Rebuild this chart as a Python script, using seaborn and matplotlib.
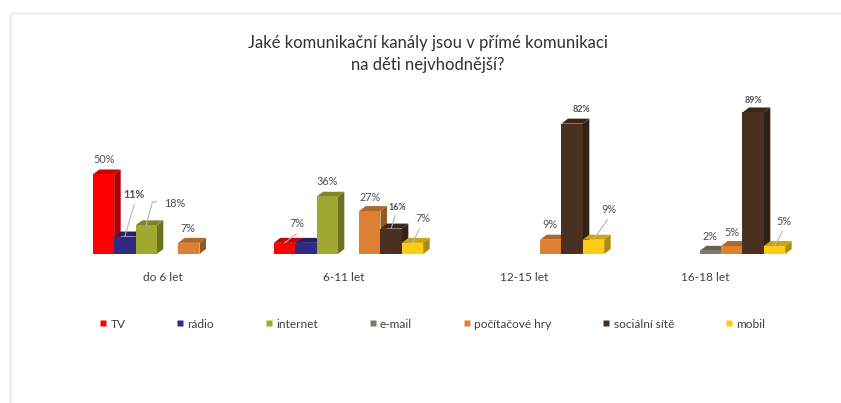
import matplotlib
matplotlib.use("Agg")
import matplotlib.pyplot as plt
from matplotlib.colors import to_rgb
from matplotlib.lines import Line2D
from matplotlib.patches import Polygon
from matplotlib.transforms import ScaledTranslation
import numpy as np
import pandas as pd
import seaborn as sns

# Survey results, per cent of respondents (NaN = no bar)
age_groups = ["do 6 let", "6-11 let", "12-15 let", "16-18 let"]
tv = [50, 7, np.nan, np.nan]
radio = [11, 7, np.nan, np.nan]
internet = [18, 36, np.nan, np.nan]
email = [np.nan, np.nan, np.nan, 2]
games = [7, 27, 9, 5]
social = [np.nan, 16, 82, 89]
mobile = [np.nan, 7, 9, 5]

channels = ["TV", "rádio", "internet", "e-mail", "počítačové hry", "sociální sítě", "mobil"]
colors = ["#FF0000", "#2E2A85", "#A0A82F", "#857766", "#DD8033", "#4A3020", "#FFCC14"]
title = "Jaké komunikační kanály jsou v přímé komunikaci\nna děti nejvhodnější?"

W, H = 841, 403
sns.set_theme(style="white")
plt.rcParams["font.family"] = ["Lato", "DejaVu Sans"]

df = pd.DataFrame({
    "skupina": age_groups * len(channels),
    "kanál": np.repeat(channels, len(age_groups)),
    "podíl": np.concatenate([tv, radio, internet, email, games, social, mobile]),
})

fig = plt.figure(figsize=(W / 100, H / 100), dpi=100)
AX_L, AX_R, AX_TOP, AX_BASE = 77, 801, 95, 254
ax = fig.add_axes([AX_L / W, 1 - AX_BASE / H, (AX_R - AX_L) / W, (AX_BASE - AX_TOP) / H])
sns.barplot(data=df, x="skupina", y="podíl", hue="kanál", hue_order=channels,
            palette=colors, width=0.825, saturation=1, legend=False, ax=ax,
            order=age_groups, linewidth=0, edgecolor="none")
ax.set_xlim(-0.5, 3.5)
ax.set_ylim(0, 100)
ax.set(xlabel="", ylabel="")
ax.set_yticks([])
sns.despine(ax=ax, left=True, bottom=True)
ax.patch.set_alpha(0)

# Pseudo-3D depth of each bar, in pixels converted to data units
DEPTH_X = 6.5 / ((AX_R - AX_L) / 4)
DEPTH_Y = 5 / ((AX_BASE - AX_TOP) / 100)


def shade(color, factor):
    return tuple(c * factor for c in to_rgb(color))


# Empty bars may be dropped by seaborn, so the group comes from the bar's position
bars = []
for i, container in enumerate(ax.containers):
    for bar in container.patches:
        h = bar.get_height()
        if np.isnan(h) or h == 0:
            continue
        g = int(round(bar.get_x() + bar.get_width() / 2))
        bars.append((g, i, bar))

for g, i, bar in bars:
    x0, x1, h = bar.get_x(), bar.get_x() + bar.get_width(), bar.get_height()
    z = 2 + g * 10 + i
    bar.set_zorder(z + 0.5)
    bar.set_clip_on(False)
    side = Polygon([(x1, 0), (x1 + DEPTH_X, DEPTH_Y), (x1 + DEPTH_X, h + DEPTH_Y), (x1, h)],
                   facecolor=shade(colors[i], 0.68), edgecolor="none", clip_on=False, zorder=z)
    top = Polygon([(x0, h), (x0 + DEPTH_X, h + DEPTH_Y), (x1 + DEPTH_X, h + DEPTH_Y), (x1, h)],
                  facecolor=shade(colors[i], 0.8), edgecolor="none", clip_on=False, zorder=z + 0.2)
    ax.add_patch(side)
    ax.add_patch(top)

# Value labels: (group, channel) -> label centre, leader start, in pixels from the bar's top centre
label_layout = {
    (0, 0): ((0.5, -14.5), None),
    (0, 1): ((9.5, -42.5), (9.5, -32)),
    (0, 2): ((28.5, -22), (10.5, -23.4)),
    (0, 4): ((-0.5, -14), None),
    (1, 0): ((12, -19), (12, -9)),
    (1, 2): ((0, -15), None),
    (1, 4): ((0, -14), None),
    (1, 5): ((6, -21.5), (4, -13)),
    (1, 6): ((10, -24), (7, -14)),
    (2, 4): ((-1, -14.7), None),
    (2, 5): ((9, -14.6), None),
    (2, 6): ((15, -30), (14, -20)),
    (3, 3): ((0, -14), None),
    (3, 4): ((0, -14), None),
    (3, 5): ((0, -11.5), None),
    (3, 6): ((9, -25), (8, -15)),
}
emphasised = {(0, 1), (1, 5), (2, 5), (3, 5)}
small = {(1, 5), (2, 5), (3, 5)}
elbowed = {(0, 2)}
for g, i, bar in bars:
    if (g, i) not in label_layout:
        continue
    (dx, dy), start = label_layout[(g, i)]
    anchor = (bar.get_x() + bar.get_width() / 2, bar.get_height())
    ax.annotate(f"{bar.get_height():.0f}%", xy=anchor, xytext=(dx * 0.72, -dy * 0.72),
                textcoords="offset points", ha="center", va="center",
                fontsize=6.4 if (g, i) in small else 7.8,
                fontweight="bold" if (g, i) in emphasised else "normal",
                color="#505050", zorder=500, annotation_clip=False)
    if start is not None:
        route = "angle,angleA=0,angleB=75,rad=0" if (g, i) in elbowed else "arc3"
        ax.annotate("", xy=anchor, xycoords="data",
                    xytext=(start[0] * 0.72, -start[1] * 0.72), textcoords="offset points",
                    arrowprops=dict(arrowstyle="-", color="#B5B5B5", lw=0.8, shrinkA=0, shrinkB=0,
                                    connectionstyle=route),
                    zorder=499, annotation_clip=False)

# Category names sit slightly left of the group centres
ax.tick_params(axis="x", length=0, pad=13, labelsize=8.6, labelcolor="#404040")
shift = ScaledTranslation(-5 / 100, 0, fig.dpi_scale_trans)
for lab in ax.get_xticklabels():
    lab.set_transform(lab.get_transform() + shift)

# Legend below the plot
handles = [Line2D([], [], linestyle="none", marker="s", markersize=4.6,
                  markerfacecolor=c, markeredgecolor="none", label=n)
           for n, c in zip(channels, colors)]
fig.legend(handles=handles, loc="center", bbox_to_anchor=(432 / W, 1 - 324 / H), ncol=7,
           frameon=False, fontsize=8.6, labelcolor="#404040", handlelength=0.7,
           handletextpad=0.25, columnspacing=4.25, borderpad=0)

fig.text(428 / W, 1 - 54 / H, title, ha="center", va="center", fontsize=12,
         color="#303030", linespacing=1.5)

# Thin panel outline along the top and left
frame = "#E4E4E4"
fig.add_artist(Line2D([9.5 / W, 9.5 / W], [0, 1 - 14 / H], color=frame, lw=1))
fig.add_artist(Line2D([11 / W, 1], [1 - 12.5 / H, 1 - 12.5 / H], color=frame, lw=1))

fig.savefig("out.png", dpi=100)
